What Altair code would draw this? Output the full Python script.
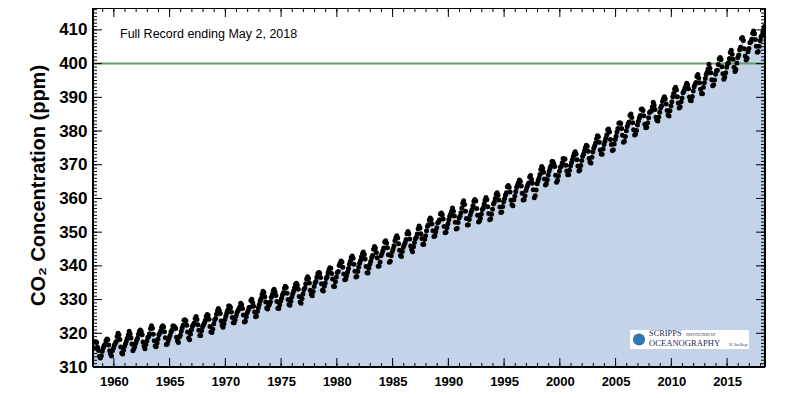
import altair as alt
import pandas as pd

# ---------------- data (monthly CO2, ppm, Mauna Loa) ----------------
years = list(range(1958, 2019))
co2_1958_1969 = [
    [None, None, 315.70, 317.45, 317.51, 317.24, 315.86, 314.93, 313.20, 312.66, 313.33, 314.67],
    [315.62, 316.38, 316.71, 317.72, 318.29, 318.15, 316.54, 314.80, 313.84, 313.26, 314.80, 315.58],
    [316.43, 316.97, 317.58, 319.02, 320.03, 319.59, 318.18, 315.91, 314.16, 313.83, 315.00, 316.19],
    [316.93, 317.70, 318.54, 319.48, 320.58, 319.77, 318.57, 316.79, 314.80, 315.38, 316.10, 317.01],
    [317.94, 318.56, 319.68, 320.63, 321.01, 320.55, 319.58, 317.40, 316.26, 315.42, 316.69, 317.69],
    [318.74, 319.08, 319.86, 321.39, 322.25, 321.47, 319.74, 317.77, 316.21, 315.99, 317.12, 318.31],
    [319.57, 320.07, 320.73, 321.77, 322.25, 321.89, 320.44, 318.70, 316.70, 316.79, 317.79, 318.71],
    [319.44, 320.44, 320.89, 322.13, 322.16, 321.87, 321.39, 318.81, 317.81, 317.30, 318.87, 319.42],
    [320.62, 321.59, 322.39, 323.87, 324.01, 323.75, 322.39, 320.37, 318.64, 318.10, 319.79, 321.08],
    [322.07, 322.50, 323.04, 324.42, 325.00, 324.09, 322.55, 320.92, 319.31, 319.31, 320.72, 321.96],
    [322.57, 323.15, 323.89, 325.02, 325.57, 325.36, 324.14, 322.03, 320.41, 320.25, 321.31, 322.84],
    [324.00, 324.42, 325.64, 326.66, 327.34, 326.76, 325.88, 323.67, 322.38, 321.78, 322.85, 324.12],
]
co2_1970_1981 = [
    [325.03, 325.99, 326.87, 328.13, 328.07, 327.66, 326.35, 324.69, 323.10, 323.16, 323.98, 325.13],
    [326.17, 326.68, 327.18, 327.78, 328.92, 328.57, 327.34, 325.46, 323.36, 323.57, 324.80, 326.01],
    [326.77, 327.63, 327.75, 329.72, 330.07, 329.09, 328.05, 326.32, 324.93, 325.06, 326.50, 327.55],
    [328.54, 329.56, 330.30, 331.50, 332.48, 332.07, 330.87, 329.31, 327.51, 327.18, 328.16, 328.64],
    [329.35, 330.71, 331.48, 332.65, 333.09, 332.25, 331.18, 329.40, 327.43, 327.37, 328.46, 329.57],
    [330.40, 331.40, 332.04, 333.31, 333.96, 333.59, 331.91, 330.06, 328.56, 328.34, 329.49, 330.76],
    [331.75, 332.56, 333.50, 334.58, 334.87, 334.34, 333.05, 330.94, 329.30, 328.94, 330.31, 331.68],
    [332.93, 333.42, 334.70, 336.07, 336.75, 336.27, 334.92, 332.75, 331.59, 331.16, 332.40, 333.85],
    [334.97, 335.39, 336.64, 337.76, 338.01, 337.89, 336.54, 334.68, 332.76, 332.55, 333.92, 334.95],
    [336.23, 336.76, 337.96, 338.88, 339.47, 339.29, 337.73, 336.09, 333.92, 333.86, 335.29, 336.73],
    [338.01, 338.36, 340.08, 340.77, 341.46, 341.17, 339.56, 337.60, 335.88, 336.01, 337.10, 338.21],
    [339.23, 340.47, 341.38, 342.51, 342.91, 342.25, 340.49, 338.43, 336.69, 336.85, 338.36, 339.61],
]
co2_1982_1993 = [
    [340.75, 341.61, 342.70, 343.56, 344.13, 343.35, 342.06, 339.82, 337.97, 337.86, 339.26, 340.49],
    [341.38, 342.52, 343.10, 344.94, 345.75, 345.32, 343.99, 342.39, 339.86, 339.99, 341.16, 342.99],
    [343.70, 344.51, 345.28, 347.08, 347.43, 346.79, 345.40, 343.28, 341.07, 341.35, 342.98, 344.22],
    [344.97, 345.99, 347.42, 348.35, 348.93, 348.25, 346.56, 344.67, 343.09, 342.80, 344.24, 345.56],
    [346.29, 346.96, 347.86, 349.55, 350.21, 349.54, 347.94, 345.91, 344.86, 344.17, 345.66, 346.90],
    [348.02, 348.47, 349.42, 350.99, 351.84, 351.25, 349.52, 348.10, 346.44, 346.36, 347.81, 348.96],
    [350.43, 351.73, 352.22, 353.59, 354.22, 353.79, 352.39, 350.44, 348.72, 348.88, 350.07, 351.34],
    [352.76, 353.07, 353.68, 355.42, 355.67, 355.13, 353.90, 351.67, 349.80, 349.99, 351.30, 352.53],
    [353.66, 354.70, 355.39, 356.20, 357.16, 356.22, 354.82, 352.91, 350.96, 351.18, 352.83, 354.21],
    [354.72, 355.75, 357.16, 358.60, 359.34, 358.24, 356.17, 354.02, 352.15, 352.21, 353.75, 354.99],
    [355.99, 356.72, 357.81, 359.15, 359.66, 359.25, 357.02, 355.00, 353.01, 353.31, 354.16, 355.40],
    [356.70, 357.16, 358.38, 359.46, 360.28, 359.60, 357.57, 355.52, 353.70, 353.98, 355.33, 356.80],
]
co2_1994_2005 = [
    [358.36, 358.91, 359.97, 361.26, 361.68, 360.95, 359.55, 357.49, 355.84, 356.00, 357.59, 359.05],
    [359.98, 361.03, 361.66, 363.48, 363.82, 363.30, 361.94, 359.50, 358.11, 357.80, 359.61, 360.74],
    [362.09, 363.29, 364.06, 364.76, 365.45, 365.01, 363.70, 361.54, 359.51, 359.65, 360.80, 362.38],
    [363.23, 364.06, 364.61, 366.40, 366.84, 365.68, 364.52, 362.57, 360.24, 360.83, 362.49, 364.34],
    [365.18, 365.98, 367.13, 368.61, 369.49, 368.95, 367.74, 365.79, 364.01, 364.35, 365.52, 366.93],
    [368.18, 369.07, 369.68, 370.99, 370.96, 370.30, 369.45, 366.90, 364.81, 365.37, 366.72, 368.10],
    [369.29, 369.55, 370.60, 371.82, 371.58, 371.70, 369.86, 368.13, 367.00, 367.03, 368.37, 369.67],
    [370.59, 371.51, 372.43, 373.37, 373.85, 373.21, 371.51, 369.61, 368.18, 368.45, 369.76, 371.24],
    [372.53, 373.20, 374.12, 375.02, 375.76, 375.52, 374.01, 371.85, 370.75, 370.55, 372.25, 373.79],
    [374.88, 375.64, 376.45, 377.73, 378.60, 378.28, 376.70, 374.38, 373.17, 373.14, 374.66, 375.99],
    [377.00, 377.87, 378.88, 380.35, 380.62, 379.69, 377.47, 376.01, 374.25, 374.46, 376.16, 377.51],
    [378.46, 379.73, 380.77, 382.29, 382.45, 382.21, 380.74, 378.74, 376.70, 377.00, 378.35, 380.11],
]
co2_2006_2018 = [
    [381.38, 382.19, 382.67, 384.61, 385.03, 384.05, 382.46, 380.41, 378.85, 379.13, 380.15, 381.82],
    [382.89, 383.90, 384.58, 386.50, 386.56, 386.10, 384.50, 381.99, 380.96, 381.12, 382.45, 383.95],
    [385.52, 385.82, 386.03, 387.21, 388.54, 387.76, 386.36, 384.09, 383.18, 382.99, 384.19, 385.56],
    [386.94, 387.48, 388.82, 389.55, 390.14, 389.48, 388.03, 386.11, 384.74, 384.43, 386.02, 387.42],
    [388.71, 390.20, 391.17, 392.46, 393.00, 392.15, 390.20, 388.35, 386.85, 387.24, 388.67, 389.79],
    [391.33, 391.86, 392.60, 393.25, 394.19, 393.74, 392.51, 390.13, 389.08, 389.00, 390.28, 391.86],
    [393.12, 393.86, 394.40, 396.18, 396.74, 395.71, 394.36, 392.39, 391.11, 391.05, 392.98, 394.34],
    [395.55, 396.80, 397.43, 398.41, 399.78, 398.60, 397.32, 395.20, 393.45, 393.70, 395.16, 396.84],
    [397.85, 398.01, 399.77, 401.38, 401.78, 401.25, 399.10, 397.03, 395.38, 396.03, 397.28, 398.91],
    [399.98, 400.28, 401.54, 403.28, 403.96, 402.80, 401.31, 398.93, 397.63, 398.29, 400.16, 401.85],
    [402.56, 404.12, 404.87, 407.45, 407.72, 406.83, 404.41, 402.27, 401.05, 401.59, 403.55, 404.45],
    [406.17, 406.46, 407.22, 409.04, 409.69, 408.88, 407.12, 405.13, 403.37, 403.63, 405.12, 406.81],
    [407.96, 408.32, 409.41, 410.24, 411.10, None, None, None, None, None, None, None],
]

y_major_ticks = [310, 320, 330, 340, 350, 360, 370, 380, 390, 400, 410]
y_minor_ticks = list(range(311, 417))
x_major_ticks = [1960, 1965, 1970, 1975, 1980, 1985, 1990, 1995, 2000, 2005, 2010, 2015]
x_minor_ticks = list(range(1959, 2019))
reference_level = [400]
baseline_level = 310
note_text = "Full Record ending May 2, 2018"
logo_lines = ["SCRIPPS", "INSTITUTION OF", "OCEANOGRAPHY", "UC San Diego"]

# ---------------- table ----------------
rows_all = co2_1958_1969 + co2_1970_1981 + co2_1982_1993 + co2_1994_2005 + co2_2006_2018
recs = []
for yr, row in zip(years, rows_all):
    for m, v in enumerate(row):
        if v is not None:
            recs.append({"date": yr + (m + 0.5) / 12.0, "co2": v})
df = pd.DataFrame(recs)

W, H = 672, 359
FONT = "Liberation Sans, Arial, Helvetica, sans-serif"
SERIF = "Liberation Serif, Times New Roman, serif"

xs = alt.Scale(domain=[1958.13, 2018.4], nice=False, zero=False)
ys = alt.Scale(domain=[310, 416.5], nice=False, zero=False)

X_AXIS = alt.Axis(values=x_major_ticks, format="d", ticks=False, domain=False, grid=False,
                  labelFont=FONT, labelFontSize=13, labelFontWeight="bold", labelColor="black",
                  labelPadding=8, title=None, zindex=2)
Y_AXIS = alt.Axis(values=y_major_ticks, ticks=False, domain=False, grid=False,
                  labelFont=FONT, labelFontSize=17, labelFontWeight="bold", labelColor="black",
                  labelPadding=6, title="CO₂ Concentration (ppm)", titleFont=FONT,
                  titleFontSize=20, titleFontWeight="bold", titleColor="black",
                  titleX=-55, titleY=177, titleAngle=270, titleAlign="center",
                  titleBaseline="middle", zindex=2)

base = alt.Chart(df)

area = base.mark_area(color="#c3d3e8", opacity=1, clip=True).encode(
    x=alt.X("date:Q", scale=xs, axis=X_AXIS),
    y=alt.Y("co2:Q", scale=ys, axis=Y_AXIS),
    y2=alt.datum(baseline_level),
)

ref_line = alt.Chart(pd.DataFrame({"v": reference_level})).mark_rule(
    color="#5fa15f", strokeWidth=2
).encode(y=alt.Y("v:Q", scale=ys, axis=Y_AXIS))

dots = base.mark_circle(color="black", size=25, opacity=1, clip=True).encode(
    x=alt.X("date:Q", scale=xs, axis=X_AXIS),
    y=alt.Y("co2:Q", scale=ys, axis=Y_AXIS),
)

def xticks(vals, length, top):
    d = pd.DataFrame({"v": vals})
    if top:
        yy, yy2 = alt.value(0), alt.value(length)
    else:
        yy, yy2 = alt.value(H), alt.value(H - length)
    return alt.Chart(d).mark_rule(color="black", strokeWidth=1).encode(
        x=alt.X("v:Q", scale=xs, axis=X_AXIS), y=yy, y2=yy2)

def yticks(vals, length, left):
    d = pd.DataFrame({"v": vals})
    if left:
        xx, xx2 = alt.value(0), alt.value(length)
    else:
        xx, xx2 = alt.value(W), alt.value(W - length)
    return alt.Chart(d).mark_rule(color="black", strokeWidth=1).encode(
        y=alt.Y("v:Q", scale=ys, axis=Y_AXIS), x=xx, x2=xx2)

ticks = [
    xticks(x_minor_ticks, 4, False), xticks(x_major_ticks, 9, False),
    xticks(x_minor_ticks, 4, True), xticks(x_major_ticks, 9, True),
    yticks(y_minor_ticks, 4, True), yticks(y_major_ticks, 9, True),
    yticks(y_minor_ticks, 4, False), yticks(y_major_ticks, 9, False),
]

one = pd.DataFrame({"a": [0]})

def label(text, px, py, size, font=FONT, color="black", weight="normal"):
    return alt.Chart(one).mark_text(
        align="left", baseline="alphabetic", font=font, fontSize=size, color=color,
        fontWeight=weight, text=text
    ).encode(x=alt.value(px), y=alt.value(py))

note = label(note_text, 27, 30, 12.5)

# frame (drawn as rules along the plot edges)
frame = [
    alt.Chart(one).mark_rule(color="black", strokeWidth=2).encode(
        x=alt.value(0), x2=alt.value(W), y=alt.value(0)),
    alt.Chart(one).mark_rule(color="black", strokeWidth=2).encode(
        x=alt.value(0), x2=alt.value(W), y=alt.value(H)),
    alt.Chart(one).mark_rule(color="black", strokeWidth=2).encode(
        y=alt.value(0), y2=alt.value(H), x=alt.value(0)),
    alt.Chart(one).mark_rule(color="black", strokeWidth=2).encode(
        y=alt.value(0), y2=alt.value(H), x=alt.value(W)),
]

# logo box (Scripps)
logo_box = alt.Chart(one).mark_rect(color="white").encode(
    x=alt.value(537), x2=alt.value(656), y=alt.value(322), y2=alt.value(341))
logo_globe = alt.Chart(one).mark_circle(
    color="#2f78b8", size=150, opacity=1).encode(x=alt.value(546), y=alt.value(331.5))
logo_texts = [
    label(logo_lines[0], 556, 328, 8.4, SERIF, "#1d2d5a"),
    label(logo_lines[1], 593, 327.5, 3.8, SERIF, "#1d2d5a"),
    label(logo_lines[2], 556, 338, 8.6, SERIF, "#1d2d5a"),
    label(logo_lines[3], 636, 337.5, 3.2, SERIF, "#1d2d5a"),
]

chart = alt.layer(area, ref_line, dots, *ticks, *frame, note, logo_box, logo_globe,
                  *logo_texts).properties(
    width=W, height=H,
    autosize=alt.AutoSizeParams(type="none"),
    padding={"left": 85, "top": 0, "right": 13, "bottom": 23},
).configure_view(stroke=None).configure(background="white")

chart.save("out.html", embed_options={"renderer": "svg", "actions": False})
